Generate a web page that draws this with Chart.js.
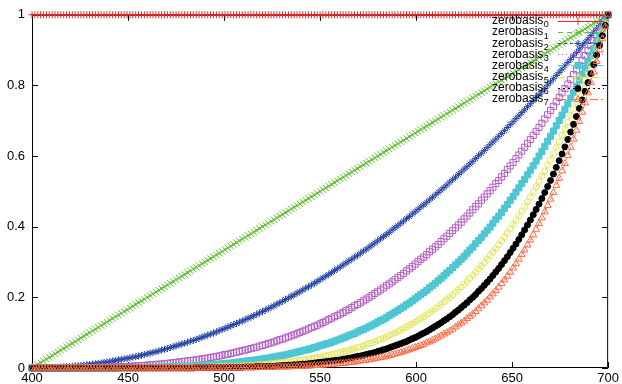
<!DOCTYPE html>
<html>
<head>
<meta charset="utf-8">
<script src="https://cdn.jsdelivr.net/npm/chart.js@4/dist/chart.umd.min.js"></script>
<style>
 html, body { margin: 0; padding: 0; background: #fff; }
 canvas { display: block; }
</style>
</head>
<body>
<canvas id="basisChart" width="622" height="384"></canvas>
<script>
// sample positions along x
const xValues = [
 400,401.5,403,404.5,406,407.5,409,410.5,412,413.5,415,416.5,418,419.5,421,422.5,424,425.5,427,428.5,
 430,431.5,433,434.5,436,437.5,439,440.5,442,443.5,445,446.5,448,449.5,451,452.5,454,455.5,457,458.5,
 460,461.5,463,464.5,466,467.5,469,470.5,472,473.5,475,476.5,478,479.5,481,482.5,484,485.5,487,488.5,
 490,491.5,493,494.5,496,497.5,499,500.5,502,503.5,505,506.5,508,509.5,511,512.5,514,515.5,517,518.5,
 520,521.5,523,524.5,526,527.5,529,530.5,532,533.5,535,536.5,538,539.5,541,542.5,544,545.5,547,548.5,
 550,551.5,553,554.5,556,557.5,559,560.5,562,563.5,565,566.5,568,569.5,571,572.5,574,575.5,577,578.5,
 580,581.5,583,584.5,586,587.5,589,590.5,592,593.5,595,596.5,598,599.5,601,602.5,604,605.5,607,608.5,
 610,611.5,613,614.5,616,617.5,619,620.5,622,623.5,625,626.5,628,629.5,631,632.5,634,635.5,637,638.5,
 640,641.5,643,644.5,646,647.5,649,650.5,652,653.5,655,656.5,658,659.5,661,662.5,664,665.5,667,668.5,
 670,671.5,673,674.5,676,677.5,679,680.5,682,683.5,685,686.5,688,689.5,691,692.5,694,695.5,697,698.5,
 700];

const zb0 = [
 1,1,1,1,1,1,1,1,1,1,1,1,1,1,1,1,1,1,1,1,
 1,1,1,1,1,1,1,1,1,1,1,1,1,1,1,1,1,1,1,1,
 1,1,1,1,1,1,1,1,1,1,1,1,1,1,1,1,1,1,1,1,
 1,1,1,1,1,1,1,1,1,1,1,1,1,1,1,1,1,1,1,1,
 1,1,1,1,1,1,1,1,1,1,1,1,1,1,1,1,1,1,1,1,
 1,1,1,1,1,1,1,1,1,1,1,1,1,1,1,1,1,1,1,1,
 1,1,1,1,1,1,1,1,1,1,1,1,1,1,1,1,1,1,1,1,
 1,1,1,1,1,1,1,1,1,1,1,1,1,1,1,1,1,1,1,1,
 1,1,1,1,1,1,1,1,1,1,1,1,1,1,1,1,1,1,1,1,
 1,1,1,1,1,1,1,1,1,1,1,1,1,1,1,1,1,1,1,1,
 1];
const zb1 = [
 0,0.005,0.01,0.015,0.02,0.025,0.03,0.035,0.04,0.045,0.05,0.055,0.06,0.065,0.07,0.075,0.08,0.085,0.09,0.095,
 0.1,0.105,0.11,0.115,0.12,0.125,0.13,0.135,0.14,0.145,0.15,0.155,0.16,0.165,0.17,0.175,0.18,0.185,0.19,0.195,
 0.2,0.205,0.21,0.215,0.22,0.225,0.23,0.235,0.24,0.245,0.25,0.255,0.26,0.265,0.27,0.275,0.28,0.285,0.29,0.295,
 0.3,0.305,0.31,0.315,0.32,0.325,0.33,0.335,0.34,0.345,0.35,0.355,0.36,0.365,0.37,0.375,0.38,0.385,0.39,0.395,
 0.4,0.405,0.41,0.415,0.42,0.425,0.43,0.435,0.44,0.445,0.45,0.455,0.46,0.465,0.47,0.475,0.48,0.485,0.49,0.495,
 0.5,0.505,0.51,0.515,0.52,0.525,0.53,0.535,0.54,0.545,0.55,0.555,0.56,0.565,0.57,0.575,0.58,0.585,0.59,0.595,
 0.6,0.605,0.61,0.615,0.62,0.625,0.63,0.635,0.64,0.645,0.65,0.655,0.66,0.665,0.67,0.675,0.68,0.685,0.69,0.695,
 0.7,0.705,0.71,0.715,0.72,0.725,0.73,0.735,0.74,0.745,0.75,0.755,0.76,0.765,0.77,0.775,0.78,0.785,0.79,0.795,
 0.8,0.805,0.81,0.815,0.82,0.825,0.83,0.835,0.84,0.845,0.85,0.855,0.86,0.865,0.87,0.875,0.88,0.885,0.89,0.895,
 0.9,0.905,0.91,0.915,0.92,0.925,0.93,0.935,0.94,0.945,0.95,0.955,0.96,0.965,0.97,0.975,0.98,0.985,0.99,0.995,
 1];
const zb2 = [
 0,0,0,0,0,0.001,0.001,0.001,0.002,0.002,0.003,0.003,0.004,0.004,0.005,0.006,0.006,0.007,0.008,0.009,
 0.01,0.011,0.012,0.013,0.014,0.016,0.017,0.018,0.02,0.021,0.023,0.024,0.026,0.027,0.029,0.031,0.032,0.034,0.036,0.038,
 0.04,0.042,0.044,0.046,0.048,0.051,0.053,0.055,0.058,0.06,0.063,0.065,0.068,0.07,0.073,0.076,0.078,0.081,0.084,0.087,
 0.09,0.093,0.096,0.099,0.102,0.106,0.109,0.112,0.116,0.119,0.123,0.126,0.13,0.133,0.137,0.141,0.144,0.148,0.152,0.156,
 0.16,0.164,0.168,0.172,0.176,0.181,0.185,0.189,0.194,0.198,0.203,0.207,0.212,0.216,0.221,0.226,0.23,0.235,0.24,0.245,
 0.25,0.255,0.26,0.265,0.27,0.276,0.281,0.286,0.292,0.297,0.303,0.308,0.314,0.319,0.325,0.331,0.336,0.342,0.348,0.354,
 0.36,0.366,0.372,0.378,0.384,0.391,0.397,0.403,0.41,0.416,0.423,0.429,0.436,0.442,0.449,0.456,0.462,0.469,0.476,0.483,
 0.49,0.497,0.504,0.511,0.518,0.526,0.533,0.54,0.548,0.555,0.563,0.57,0.578,0.585,0.593,0.601,0.608,0.616,0.624,0.632,
 0.64,0.648,0.656,0.664,0.672,0.681,0.689,0.697,0.706,0.714,0.723,0.731,0.74,0.748,0.757,0.766,0.774,0.783,0.792,0.801,
 0.81,0.819,0.828,0.837,0.846,0.856,0.865,0.874,0.884,0.893,0.903,0.912,0.922,0.931,0.941,0.951,0.96,0.97,0.98,0.99,
 1];
const zb3 = [
 0,0,0,0,0,0,0,0,0,0,0,0,0,0,0,0,0.001,0.001,0.001,0.001,
 0.001,0.001,0.001,0.002,0.002,0.002,0.002,0.002,0.003,0.003,0.003,0.004,0.004,0.004,0.005,0.005,0.006,0.006,0.007,0.007,
 0.008,0.009,0.009,0.01,0.011,0.011,0.012,0.013,0.014,0.015,0.016,0.017,0.018,0.019,0.02,0.021,0.022,0.023,0.024,0.026,
 0.027,0.028,0.03,0.031,0.033,0.034,0.036,0.038,0.039,0.041,0.043,0.045,0.047,0.049,0.051,0.053,0.055,0.057,0.059,0.062,
 0.064,0.066,0.069,0.071,0.074,0.077,0.08,0.082,0.085,0.088,0.091,0.094,0.097,0.101,0.104,0.107,0.111,0.114,0.118,0.121,
 0.125,0.129,0.133,0.137,0.141,0.145,0.149,0.153,0.157,0.162,0.166,0.171,0.176,0.18,0.185,0.19,0.195,0.2,0.205,0.211,
 0.216,0.221,0.227,0.233,0.238,0.244,0.25,0.256,0.262,0.268,0.275,0.281,0.287,0.294,0.301,0.308,0.314,0.321,0.329,0.336,
 0.343,0.35,0.358,0.366,0.373,0.381,0.389,0.397,0.405,0.413,0.422,0.43,0.439,0.448,0.457,0.465,0.475,0.484,0.493,0.502,
 0.512,0.522,0.531,0.541,0.551,0.562,0.572,0.582,0.593,0.603,0.614,0.625,0.636,0.647,0.659,0.67,0.681,0.693,0.705,0.717,
 0.729,0.741,0.754,0.766,0.779,0.791,0.804,0.817,0.831,0.844,0.857,0.871,0.885,0.899,0.913,0.927,0.941,0.956,0.97,0.985,
 1];
const zb4 = [
 0,0,0,0,0,0,0,0,0,0,0,0,0,0,0,0,0,0,0,0,
 0,0,0,0,0,0,0,0,0,0,0.001,0.001,0.001,0.001,0.001,0.001,0.001,0.001,0.001,0.002,
 0.002,0.002,0.002,0.002,0.002,0.003,0.003,0.003,0.003,0.004,0.004,0.004,0.005,0.005,0.005,0.006,0.006,0.007,0.007,0.008,
 0.008,0.009,0.009,0.01,0.01,0.011,0.012,0.013,0.013,0.014,0.015,0.016,0.017,0.018,0.019,0.02,0.021,0.022,0.023,0.024,
 0.026,0.027,0.028,0.03,0.031,0.033,0.034,0.036,0.037,0.039,0.041,0.043,0.045,0.047,0.049,0.051,0.053,0.055,0.058,0.06,
 0.063,0.065,0.068,0.07,0.073,0.076,0.079,0.082,0.085,0.088,0.092,0.095,0.098,0.102,0.106,0.109,0.113,0.117,0.121,0.125,
 0.13,0.134,0.138,0.143,0.148,0.153,0.158,0.163,0.168,0.173,0.179,0.184,0.19,0.196,0.202,0.208,0.214,0.22,0.227,0.233,
 0.24,0.247,0.254,0.261,0.269,0.276,0.284,0.292,0.3,0.308,0.316,0.325,0.334,0.342,0.352,0.361,0.37,0.38,0.39,0.399,
 0.41,0.42,0.43,0.441,0.452,0.463,0.475,0.486,0.498,0.51,0.522,0.534,0.547,0.56,0.573,0.586,0.6,0.613,0.627,0.642,
 0.656,0.671,0.686,0.701,0.716,0.732,0.748,0.764,0.781,0.797,0.815,0.832,0.849,0.867,0.885,0.904,0.922,0.941,0.961,0.98,
 1];
const zb5 = [
 0,0,0,0,0,0,0,0,0,0,0,0,0,0,0,0,0,0,0,0,
 0,0,0,0,0,0,0,0,0,0,0,0,0,0,0,0,0,0,0,0,
 0,0,0,0,0.001,0.001,0.001,0.001,0.001,0.001,0.001,0.001,0.001,0.001,0.001,0.002,0.002,0.002,0.002,0.002,
 0.002,0.003,0.003,0.003,0.003,0.004,0.004,0.004,0.005,0.005,0.005,0.006,0.006,0.006,0.007,0.007,0.008,0.008,0.009,0.01,
 0.01,0.011,0.012,0.012,0.013,0.014,0.015,0.016,0.016,0.017,0.018,0.02,0.021,0.022,0.023,0.024,0.025,0.027,0.028,0.03,
 0.031,0.033,0.035,0.036,0.038,0.04,0.042,0.044,0.046,0.048,0.05,0.053,0.055,0.058,0.06,0.063,0.066,0.069,0.071,0.075,
 0.078,0.081,0.084,0.088,0.092,0.095,0.099,0.103,0.107,0.112,0.116,0.121,0.125,0.13,0.135,0.14,0.145,0.151,0.156,0.162,
 0.168,0.174,0.18,0.187,0.193,0.2,0.207,0.215,0.222,0.229,0.237,0.245,0.254,0.262,0.271,0.28,0.289,0.298,0.308,0.318,
 0.328,0.338,0.349,0.36,0.371,0.382,0.394,0.406,0.418,0.431,0.444,0.457,0.47,0.484,0.498,0.513,0.528,0.543,0.558,0.574,
 0.59,0.607,0.624,0.641,0.659,0.677,0.696,0.715,0.734,0.754,0.774,0.794,0.815,0.837,0.859,0.881,0.904,0.927,0.951,0.975,
 1];
const zb6 = [
 0,0,0,0,0,0,0,0,0,0,0,0,0,0,0,0,0,0,0,0,
 0,0,0,0,0,0,0,0,0,0,0,0,0,0,0,0,0,0,0,0,
 0,0,0,0,0,0,0,0,0,0,0,0,0,0,0,0,0,0.001,0.001,0.001,
 0.001,0.001,0.001,0.001,0.001,0.001,0.001,0.001,0.002,0.002,0.002,0.002,0.002,0.002,0.003,0.003,0.003,0.003,0.004,0.004,
 0.004,0.004,0.005,0.005,0.005,0.006,0.006,0.007,0.007,0.008,0.008,0.009,0.009,0.01,0.011,0.011,0.012,0.013,0.014,0.015,
 0.016,0.017,0.018,0.019,0.02,0.021,0.022,0.023,0.025,0.026,0.028,0.029,0.031,0.033,0.034,0.036,0.038,0.04,0.042,0.044,
 0.047,0.049,0.052,0.054,0.057,0.06,0.063,0.066,0.069,0.072,0.075,0.079,0.083,0.086,0.09,0.095,0.099,0.103,0.108,0.113,
 0.118,0.123,0.128,0.134,0.139,0.145,0.151,0.158,0.164,0.171,0.178,0.185,0.193,0.2,0.208,0.217,0.225,0.234,0.243,0.252,
 0.262,0.272,0.282,0.293,0.304,0.315,0.327,0.339,0.351,0.364,0.377,0.391,0.405,0.419,0.434,0.449,0.464,0.48,0.497,0.514,
 0.531,0.549,0.568,0.587,0.606,0.626,0.647,0.668,0.69,0.712,0.735,0.759,0.783,0.808,0.833,0.859,0.886,0.913,0.941,0.97,
 1];
const zb7 = [
 0,0,0,0,0,0,0,0,0,0,0,0,0,0,0,0,0,0,0,0,
 0,0,0,0,0,0,0,0,0,0,0,0,0,0,0,0,0,0,0,0,
 0,0,0,0,0,0,0,0,0,0,0,0,0,0,0,0,0,0,0,0,
 0,0,0,0,0,0,0,0,0.001,0.001,0.001,0.001,0.001,0.001,0.001,0.001,0.001,0.001,0.001,0.002,
 0.002,0.002,0.002,0.002,0.002,0.003,0.003,0.003,0.003,0.003,0.004,0.004,0.004,0.005,0.005,0.005,0.006,0.006,0.007,0.007,
 0.008,0.008,0.009,0.01,0.01,0.011,0.012,0.013,0.013,0.014,0.015,0.016,0.017,0.018,0.02,0.021,0.022,0.023,0.025,0.026,
 0.028,0.03,0.031,0.033,0.035,0.037,0.039,0.042,0.044,0.046,0.049,0.052,0.055,0.058,0.061,0.064,0.067,0.071,0.074,0.078,
 0.082,0.087,0.091,0.096,0.1,0.105,0.11,0.116,0.122,0.127,0.133,0.14,0.146,0.153,0.16,0.168,0.176,0.184,0.192,0.201,
 0.21,0.219,0.229,0.239,0.249,0.26,0.271,0.283,0.295,0.308,0.321,0.334,0.348,0.362,0.377,0.393,0.409,0.425,0.442,0.46,
 0.478,0.497,0.517,0.537,0.558,0.579,0.602,0.625,0.648,0.673,0.698,0.724,0.751,0.779,0.808,0.838,0.868,0.9,0.932,0.966,
 1];

const seriesValues = [zb0, zb1, zb2, zb3, zb4, zb5, zb6, zb7];
const seriesName = 'zerobasis';
const seriesIndex = ['0', '1', '2', '3', '4', '5', '6', '7'];
const xTicks = [400, 450, 500, 550, 600, 650, 700];
const yTicks = [0, 0.2, 0.4, 0.6, 0.8, 1];
const yTickLabels = ['0', '0.2', '0.4', '0.6', '0.8', '1'];

// gnuplot-ish line types: colour, point style, open/filled, dash
const styles = [
  { color: '#e02828', point: 'cross',    r: 3.5, fill: false, dash: [] },
  { color: '#5cbf2e', point: 'crossRot', r: 4.5, fill: false, dash: [5, 4] },
  { color: '#2747a6', point: 'star',     r: 3.5, fill: false, dash: [3, 3] },
  { color: '#b35fc2', point: 'rect',     r: 4.3, fill: false, dash: [1, 3] },
  { color: '#4ec6d3', point: 'rect',     r: 4.3, fill: true,  dash: [6, 3, 1, 3] },
  { color: '#e4e45a', point: 'circle',   r: 3,   fill: false, dash: [8, 3] },
  { color: '#000000', point: 'circle',   r: 3,   fill: true,  dash: [2, 3] },
  { color: '#ff6d48', point: 'triangle', r: 4,   fill: false, dash: [8, 3, 2, 3] },
];

const FONT = '"Liberation Sans", Arial, sans-serif';

const datasets = seriesValues.map((vals, k) => {
  const s = styles[k];
  return {
    label: seriesName + seriesIndex[k],
    data: vals.map((v, i) => ({ x: xValues[i], y: v })),
    borderColor: s.color,
    borderWidth: 1,
    borderDash: s.dash,
    pointStyle: s.point,
    pointRadius: s.r,
    pointBorderWidth: 1,
    pointBorderColor: s.color,
    pointBackgroundColor: s.fill ? s.color : 'rgba(0,0,0,0)',
    tension: 0,
    clip: false,
    order: 7 - k,
  };
});

// frame and inward ticks on all four sides
const framePlugin = {
  id: 'frame',
  beforeDatasetsDraw(chart) {
    const { ctx, chartArea: a, scales } = chart;
    ctx.save();
    ctx.strokeStyle = '#000';
    ctx.lineWidth = 1;
    ctx.setLineDash([]);
    ctx.beginPath();
    ctx.rect(a.left + 0.5, a.top + 0.5, a.right - a.left - 1, a.bottom - a.top - 1);
    xTicks.forEach(v => {
      const px = Math.round(scales.x.getPixelForValue(v)) + 0.5;
      ctx.moveTo(px, a.bottom); ctx.lineTo(px, a.bottom - 6);
      ctx.moveTo(px, a.top); ctx.lineTo(px, a.top + 6);
    });
    yTicks.forEach(v => {
      const py = Math.round(scales.y.getPixelForValue(v)) + 0.5;
      ctx.moveTo(a.left, py); ctx.lineTo(a.left + 6, py);
      ctx.moveTo(a.right, py); ctx.lineTo(a.right - 6, py);
    });
    ctx.stroke();
    ctx.restore();
  }
};

// key in the top right corner, with subscripted index
const keyPlugin = {
  id: 'key',
  afterDatasetsDraw(chart) {
    const ctx = chart.ctx;
    const textX = 492, top = 21, row = 11.1;
    const lineFrom = 558, lineTo = 604, markX = 578;
    ctx.save();
    chart.data.datasets.forEach((ds, k) => {
      const y = top + k * row;
      ctx.fillStyle = '#000';
      ctx.textBaseline = 'middle';
      ctx.textAlign = 'left';
      ctx.font = '12px ' + FONT;
      ctx.fillText(seriesName, textX, y);
      const w = ctx.measureText(seriesName).width;
      ctx.font = '9px ' + FONT;
      ctx.fillText(seriesIndex[k], textX + w + 0.5, y + 4);

      ctx.strokeStyle = ds.borderColor;
      ctx.lineWidth = 1;
      ctx.setLineDash(ds.borderDash);
      ctx.beginPath();
      ctx.moveTo(lineFrom, Math.round(y) + 0.5);
      ctx.lineTo(lineTo, Math.round(y) + 0.5);
      ctx.stroke();
      ctx.setLineDash([]);
      ctx.fillStyle = ds.pointBackgroundColor;
      Chart.helpers.drawPoint(ctx, {
        pointStyle: ds.pointStyle, radius: ds.pointRadius, rotation: 0, borderWidth: 1
      }, markX, Math.round(y) + 0.5);
    });
    ctx.restore();
  }
};

new Chart(document.getElementById('basisChart'), {
  type: 'line',
  data: { datasets },
  plugins: [framePlugin, keyPlugin],
  options: {
    responsive: false,
    animation: false,
    devicePixelRatio: 1,
    events: [],
    layout: { padding: { top: 13, right: 11, left: 0, bottom: 0 } },
    plugins: { legend: { display: false }, tooltip: { enabled: false } },
    scales: {
      x: {
        type: 'linear',
        min: 400, max: 700,
        afterFit(scale) { scale.height = 16; },
        afterBuildTicks(scale) { scale.ticks = xTicks.map(v => ({ value: v })); },
        grid: { display: false, drawTicks: false },
        border: { display: false },
        ticks: { color: '#000', padding: 3, font: { family: FONT, size: 13 } },
      },
      y: {
        type: 'linear',
        min: 0, max: 1,
        afterFit(scale) { scale.width = 32; },
        afterBuildTicks(scale) { scale.ticks = yTicks.map(v => ({ value: v })); },
        grid: { display: false, drawTicks: false },
        border: { display: false },
        ticks: {
          color: '#000', padding: 7, font: { family: FONT, size: 13 },
          callback: (v) => yTickLabels[yTicks.indexOf(v)],
        },
      },
    },
  },
});
</script>
</body>
</html>
